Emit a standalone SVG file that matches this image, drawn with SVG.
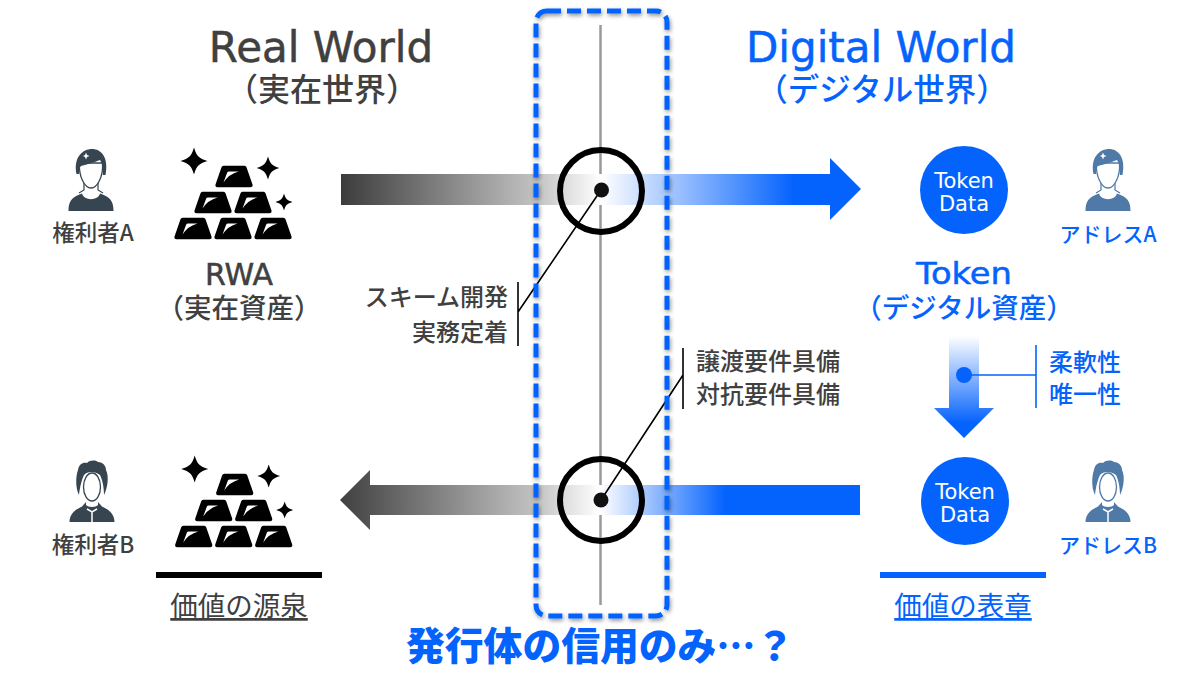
<svg xmlns="http://www.w3.org/2000/svg" width="1200" height="674" viewBox="0 0 1200 674">
<style>
text{font-family:"Noto Sans CJK JP","Noto Sans",sans-serif}
.g{fill:#404040}.b{fill:#0563fd}
.m{text-anchor:middle}.e{text-anchor:end}
.lat{font-family:"DejaVu Sans","Noto Sans CJK JP",sans-serif}
.g.lat{stroke:#404040;stroke-width:.5}.b.lat{stroke:#0563fd;stroke-width:.5}
.thin{stroke:#000;stroke-width:1.6;fill:none}
.bthin{stroke:#0563fd;stroke-width:1.6;fill:none}
</style>
<defs>
<linearGradient id="gTop" gradientUnits="userSpaceOnUse" x1="341" y1="0" x2="861" y2="0">
<stop offset="0" stop-color="#3c3c3c"/><stop offset=".38" stop-color="#c4c4c4"/><stop offset=".5" stop-color="#fff"/><stop offset=".87" stop-color="#0563fd"/><stop offset="1" stop-color="#0563fd"/></linearGradient>
<linearGradient id="gBot" gradientUnits="userSpaceOnUse" x1="340" y1="0" x2="860" y2="0">
<stop offset="0" stop-color="#404040"/><stop offset=".38" stop-color="#c4c4c4"/><stop offset=".5" stop-color="#fff"/><stop offset=".74" stop-color="#0563fd"/><stop offset="1" stop-color="#0563fd"/></linearGradient>
<linearGradient id="gDown" x1="0" y1="0" x2="0" y2="1"><stop offset="0" stop-color="#fff"/><stop offset=".85" stop-color="#0563fd"/></linearGradient>
<filter id="sh" x="-10%" y="-5%" width="120%" height="110%"><feDropShadow dx="1" dy="2" stdDeviation="2" flood-color="#000" flood-opacity=".45"/></filter>
<g id="bar"><path d="M-10.500,-.3H10.500Q12,-.3 12.500,1.200L18.500,18.500Q19,21.300 16.500,21.300H-16.500Q-19,21.300 -18.500,18.500L-12.500,1.200Q-12,-.3 -10.500,-.3Z" fill="#000"/><path d="M-10.500,16.500L-6.800,6.500Q-6.300,5.500 -5,5.500H4.500Q-5,8 -10.500,16.500Z" fill="#fff"/></g>
<path id="star" d="M0,-1C.2,-.35 .35,-.2 1,0C.35,.2 .2,.35 0,1C-.2,.35 -.35,.2 -1,0C-.35,-.2 -.2,-.35 0,-1Z"/>
<g id="gold">
<use href="#star" transform="translate(194,161) scale(13.500)"/>
<use href="#star" transform="translate(268,168) scale(11.500)"/>
<use href="#star" transform="translate(284,202) scale(8.500)"/>
<use href="#bar" x="234" y="166"/>
<use href="#bar" x="213" y="192"/><use href="#bar" x="253" y="192"/>
<use href="#bar" x="193" y="218"/><use href="#bar" x="233" y="218"/><use href="#bar" x="273" y="218"/>
</g>
<g id="pA">
<path d="M-22.500,62C-22.500,53 -20,48 -9,44.500C-7,52 7,52 9,44.500C20,48 22.500,53 22.500,62Z" fill="currentColor"/>
<path d="M-7,34V41L-12,44M7,34V41L12,44" fill="none" stroke="currentColor" stroke-width="1.200"/>
<path d="M-11.500,14C-12.500,28 -6,39 0,39C6,39 12.500,28 11.500,14Z" fill="#fff" stroke="currentColor" stroke-width="1.300"/>
<path d="M-14.500,25C-18,8 -8,0 1,0C10,0 18,8 14.500,26H12C12,18 11,14 9,11C4,13 -6,16 -10,17C-12,19 -12,21 -12,25Z" fill="currentColor"/>
<path d="M-5,3.500L-4,6L-1.500,7L-4,8L-5,10.500L-6,8L-8,7L-6,6Z" fill="#fff"/>
</g>
<g id="pB">
<path d="M-22.500,61C-22.500,54 -18,49 -10,45.500L-6,41H6L10,45.500C18,49 22.500,54 22.500,61Z" fill="currentColor"/>
<path d="M-6,38H6V44C4,46.500 -4,46.500 -6,44Z" fill="#fff"/>
<path d="M-5,48L0,51L5,48M0,51V61" fill="none" stroke="#fff" stroke-width="1.500"/>
<path d="M-13,34C-17,26 -16,14 -14,9C-13,3 -9,1 -5,2C-2,-1 3,-1 6,1C11,1 14,5 14,9C17,15 16,26 12,34C12,25 10,18 8,14C3,10 -5,10 -8,14C-10,18 -12,25 -13,34Z" fill="currentColor"/>
<ellipse cx="0" cy="26" rx="8.500" ry="14" fill="#fff" stroke="currentColor" stroke-width="1.300"/>
</g>
</defs>
<rect width="1200" height="674" fill="#fff"/>

<g id="connectors">
<line x1="600.500" y1="25" x2="600.500" y2="605" stroke="#999" stroke-width="2.500"/>
<path id="arrow-top" d="M341,174H830V158L861,189L830,220V205H341Z" fill="url(#gTop)"/>
<path id="arrow-bottom" d="M860,485H370V470L340,500L370,530V515H860Z" fill="url(#gBot)"/>
<path id="arrow-down" d="M949,336H979V408H994L964,438L934,408H949Z" fill="url(#gDown)"/>
<circle cx="964" cy="375" r="8" class="b"/>
<path class="bthin" d="M964,375H1036M1036,345V408"/>
<path class="thin" d="M601,190L518,312M518,282V346"/>
<path class="thin" d="M601,500L683,375M683,348V409"/>
</g>

<g id="issuer-box">
<rect x="536" y="11" width="131" height="605" rx="11" fill="none" stroke="#0563fd" stroke-width="5" stroke-dasharray="14 6" filter="url(#sh)"/>
</g>
<g id="node-top-junction">
<circle cx="601" cy="191" r="41" fill="none" stroke="#000" stroke-width="6"/>
<circle cx="601.500" cy="190" r="7.500" fill="#111"/>
</g>
<g id="node-bottom-junction">
<circle cx="601" cy="500" r="41" fill="none" stroke="#000" stroke-width="6"/>
<circle cx="601" cy="500" r="7.500" fill="#111"/>
</g>

<g id="title-real">
<text x="321" y="62" class="g m lat" font-size="42">Real World</text>
<text x="322" y="101" class="g m" font-size="32" font-weight="500">（実在世界）</text>
</g>
<g id="title-digital">
<text x="881" y="62" class="b m lat" font-size="42">Digital World</text>
<text x="882" y="101" class="b m" font-size="31.500" font-weight="500">（デジタル世界）</text>
</g>

<g id="holder-a" color="#36454f">
<use href="#pA" x="91" y="149"/>
<text x="93" y="241" class="g m" font-size="22.500" font-weight="500">権利者A</text>
</g>
<g id="holder-b" color="#36454f">
<use href="#pB" x="92" y="461"/>
<text x="93" y="553" class="g m" font-size="22.500" font-weight="500">権利者B</text>
</g>
<g id="rwa">
<use href="#gold"/>
<text x="239" y="285" class="g m lat" font-size="30">RWA</text>
<text x="239" y="318" class="g m" font-size="27.500" font-weight="500">（実在資産）</text>
</g>
<g id="source">
<use href="#gold" x="0.700" y="308"/>
<rect x="156" y="572" width="166" height="6" fill="#000"/>
<text x="239" y="616" class="g m" font-size="27.500" text-decoration="underline">価値の源泉</text>
</g>

<g id="label-scheme">
<text x="508" y="306" class="g e" font-size="24" font-weight="500">スキーム開発</text>
<text x="508" y="341" class="g e" font-size="24" font-weight="500">実務定着</text>
</g>
<g id="label-transfer">
<text x="696" y="370" class="g" font-size="24" font-weight="500">譲渡要件具備</text>
<text x="696" y="403" class="g" font-size="24" font-weight="500">対抗要件具備</text>
</g>

<g id="token-a">
<circle cx="964" cy="190" r="44" class="b"/>
<text x="964" y="188" class="m lat" font-size="21" fill="#fff">Token</text>
<text x="964" y="211" class="m lat" font-size="21" fill="#fff">Data</text>
</g>
<g id="token-b">
<circle cx="965" cy="501" r="44" class="b"/>
<text x="965" y="499" class="m lat" font-size="21" fill="#fff">Token</text>
<text x="965" y="522" class="m lat" font-size="21" fill="#fff">Data</text>
</g>
<g id="address-a" color="#4f7aa8">
<use href="#pA" x="1108" y="149"/>
<text x="1108" y="242" class="b m" font-size="21" font-weight="500">アドレスA</text>
</g>
<g id="address-b" color="#4f7aa8">
<use href="#pB" x="1108" y="461"/>
<text x="1108" y="553" class="b m" font-size="21" font-weight="500">アドレスB</text>
</g>
<g id="token-label">
<text x="964" y="284" class="b m lat" font-size="31" textLength="96" lengthAdjust="spacingAndGlyphs">Token</text>
<text x="964" y="318" class="b m" font-size="27.500" font-weight="500">（デジタル資産）</text>
</g>
<g id="label-flex">
<text x="1049" y="371" class="b" font-size="24" font-weight="500">柔軟性</text>
<text x="1049" y="403" class="b" font-size="24" font-weight="500">唯一性</text>
</g>
<g id="representation">
<rect x="880" y="572" width="166" height="6" class="b"/>
<text x="963" y="616" class="b m" font-size="27.500" text-decoration="underline">価値の表章</text>
</g>
<g id="caption">
<text x="600" y="660" class="b m" font-size="38.800" font-weight="900">発行体の信用のみ…？</text>
</g>
</svg>
